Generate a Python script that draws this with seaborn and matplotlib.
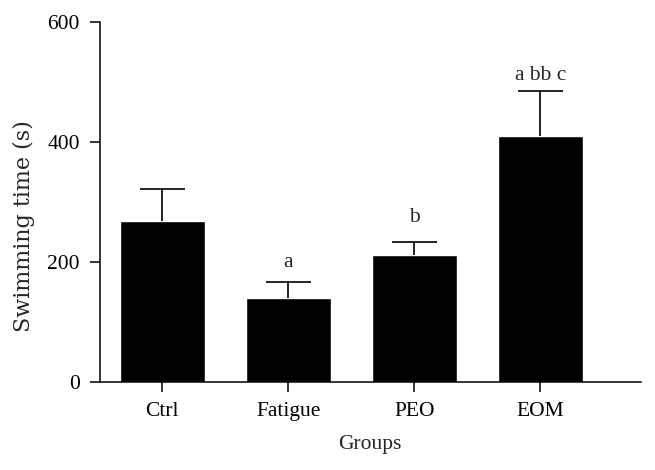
import matplotlib
matplotlib.use("Agg")
import matplotlib.pyplot as plt
import numpy as np
import seaborn as sns

# values
groups = ["Ctrl", "Fatigue", "PEO", "EOM"]
swim_time = [268, 141, 212, 411]
swim_err = [54, 26, 21, 74]
sig_labels = ["", "a", "b", "a bb c"]

sns.set_style("ticks")
plt.rcParams["font.family"] = ["Liberation Serif", "DejaVu Serif"]
plt.rcParams["font.size"] = 15

fig = plt.figure(figsize=(6.55, 4.70), dpi=100)
ax = fig.add_axes([0.1527, 0.1866, 0.8253, 0.7664])

sns.barplot(x=groups, y=swim_time, color="black", width=0.67,
            saturation=1, errorbar=None, ax=ax)

# upper half of the error bars only (stem + cap)
xpos = np.arange(len(groups))
tops = np.array(swim_time) + np.array(swim_err)
cap = 0.18
ax.vlines(xpos, swim_time, tops, color="black", lw=1.2)
ax.hlines(tops, xpos - cap, xpos + cap, color="black", lw=1.2)

# significance letters above the error bars
offsets = [0, 11, 15, 8]
for x, t, lab, off in zip(xpos, tops, sig_labels, offsets):
    if lab:
        ax.annotate(lab, (x, t), xytext=(0, off), textcoords="offset points",
                    ha="center", va="baseline", fontsize=15.5)

ax.set_ylim(0, 600)
ax.set_yticks([0, 200, 400, 600])
ax.set_xlim(-0.494, 3.794)
ax.set_xlabel("Groups", fontsize=15.5, labelpad=10)
ax.set_ylabel("Swimming time (s)", fontsize=16, family=["DejaVu Serif"])
ax.yaxis.set_label_coords(-0.12, 0.433)

sns.despine(ax=ax)
for side in ["left", "bottom"]:
    ax.spines[side].set_linewidth(1.1)
    ax.spines[side].set_color("black")
ax.tick_params(axis="both", length=7.5, width=1.1, color="black",
               labelsize=15.5, labelcolor="black", pad=7)

fig.savefig("out.png", dpi=100)
